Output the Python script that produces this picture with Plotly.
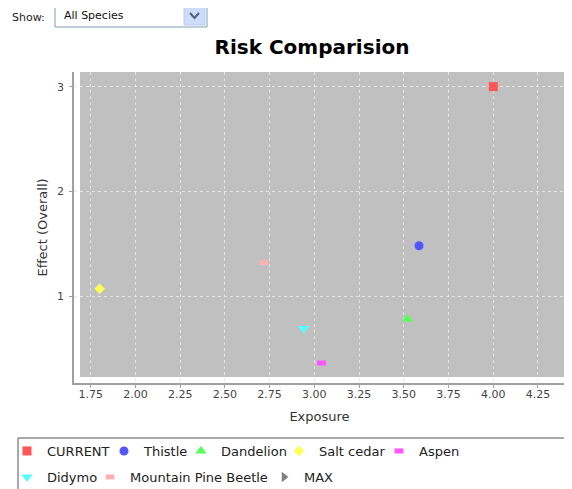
import plotly.graph_objects as go

# ---- data ----
species = ["CURRENT", "Thistle", "Dandelion", "Salt cedar", "Aspen",
           "Didymo", "Mountain Pine Beetle", "MAX"]
exposure = [4.00, 3.585, 3.52, 1.80, 3.04, 2.94, 2.72, None]
effect = [3.00, 1.48, 0.78, 1.07, 0.36, 0.69, 1.32, None]
x_ticks = [1.75, 2.00, 2.25, 2.50, 2.75, 3.00, 3.25, 3.50, 3.75, 4.00, 4.25]
y_ticks = [1, 2, 3]

# ---- styles ----
colors = ["#FF5555", "#5555FF", "#55FF55", "#FFFF55", "#FF55FF",
          "#55FFFF", "#FFAFAF", "#808080"]
symbols = ["square", "circle", "triangle-up", "diamond", "line-ew",
           "triangle-down", "line-ew", "triangle-right"]
sizes = [9, 9, 10, 8, 6.4, 10, 6.2, 9]
# legend entry layout (window pixels): text start x, row centre y
legend_text_x = [46, 143, 220, 318, 418, 46, 129, 303]
legend_row_y = [451, 451, 451, 451, 451, 477, 477, 477]

OFF = 8                      # page body margin
W, H = 572 - OFF, 489 - OFF
ML, MR, MT, MB = 66, 7, 64, 106
PW, PH = W - ML - MR, H - MT - MB

def px_x(p):
    return (p - OFF - ML) / PW

def px_y(p):
    return (H - MB - (p - OFF)) / PH

FONT = "DejaVu Sans"

fig = go.Figure()
legend_layouts = {}
for i, (name, xv, yv, c, s, sz) in enumerate(zip(species, exposure, effect, colors, symbols, sizes)):
    if s == "line-ew":
        marker = dict(symbol=s, size=sz, color=c, line=dict(color=c, width=5))
    else:
        marker = dict(symbol=s, size=sz, color=c, line=dict(width=0))
    lname = "legend" if i == 0 else f"legend{i + 1}"
    fig.add_trace(go.Scatter(x=[xv], y=[yv], mode="markers", name=name,
                             marker=marker, showlegend=True, legend=lname))
    legend_layouts[lname] = dict(
        orientation="h", x=px_x(legend_text_x[i] - 39), y=px_y(legend_row_y[i]),
        xanchor="left", yanchor="middle", bgcolor="rgba(0,0,0,0)", borderwidth=0,
        font=dict(family=FONT, size=13, color="#222222"), itemwidth=30)

shapes = [
    # plot background (inset from axis lines)
    dict(type="rect", xref="paper", yref="paper", x0=px_x(80), x1=1, y0=px_y(377), y1=1,
         fillcolor="#C0C0C0", line=dict(width=0), layer="below"),
    # legend frame (top and left edges; the rest runs off the page)
    dict(type="line", xref="paper", yref="paper", x0=px_x(18), x1=px_x(572),
         y0=px_y(438), y1=px_y(438), line=dict(color="#555555", width=1)),
    dict(type="line", xref="paper", yref="paper", x0=px_x(18), x1=px_x(18),
         y0=px_y(438), y1=px_y(495), line=dict(color="#555555", width=1)),
    # dropdown box
    dict(type="rect", xref="paper", yref="paper", x0=px_x(55), x1=px_x(207),
         y0=px_y(27), y1=px_y(4), fillcolor="white",
         line=dict(color="#7f9db9", width=1)),
    dict(type="rect", xref="paper", yref="paper", x0=px_x(184), x1=px_x(205),
         y0=px_y(25), y1=px_y(6), fillcolor="#cfdbfb",
         line=dict(color="#b7c8f2", width=1)),
    dict(type="path", xref="paper", yref="paper",
         path=f"M {px_x(190)},{px_y(13)} L {px_x(194.5)},{px_y(18)} L {px_x(199)},{px_y(13)}",
         line=dict(color="#4d6185", width=2)),
]

fig.update_layout(
    width=W, height=H,
    margin=dict(l=ML, r=MR, t=MT, b=MB, autoexpand=False),
    paper_bgcolor="white",
    plot_bgcolor="white",
    font=dict(family=FONT, size=12, color="#333333"),
    title=dict(text="<b>Risk Comparision</b>", xref="container", x=(312 - OFF) / W,
               xanchor="center", yref="container", y=1 - (47 - OFF) / H, yanchor="middle",
               font=dict(family=FONT, size=20, color="black")),
    xaxis=dict(range=[1.6567, 4.401], tickvals=x_ticks, ticktext=[f"{v:.2f}" for v in x_ticks],
               showgrid=True, gridcolor="#e4e4e4", griddash="3px,3px", gridwidth=1,
               zeroline=False, showline=True, linecolor="#a0a0a0", linewidth=1.5,
               ticks="outside", ticklen=3, tickcolor="#a0a0a0", ticklabelstandoff=-3,
               tickfont=dict(family=FONT, size=11, color="#444444"),
               title=dict(text="Exposure", font=dict(family=FONT, size=13, color="#333333"), standoff=12)),
    yaxis=dict(range=[0.169, 3.140], tickvals=y_ticks,
               showgrid=True, gridcolor="#e4e4e4", griddash="3px,3px", gridwidth=1,
               zeroline=False, showline=True, linecolor="#a0a0a0", linewidth=1.5,
               ticks="outside", ticklen=3, tickcolor="#a0a0a0", ticklabelstandoff=3,
               tickfont=dict(family=FONT, size=11, color="#444444"),
               title=dict(text="Effect (Overall)", font=dict(family=FONT, size=13, color="#333333"), standoff=6)),
    shapes=shapes,
    annotations=[
        dict(text="Show:", xref="paper", yref="paper", x=px_x(10), y=px_y(17),
             xanchor="left", yanchor="middle", showarrow=False,
             font=dict(family=FONT, size=11, color="#222222")),
        dict(text="All Species", xref="paper", yref="paper", x=px_x(62), y=px_y(15.5),
             xanchor="left", yanchor="middle", showarrow=False,
             font=dict(family=FONT, size=11, color="#111111")),
    ],
    **legend_layouts,
)

fig.write_html("out.html")
